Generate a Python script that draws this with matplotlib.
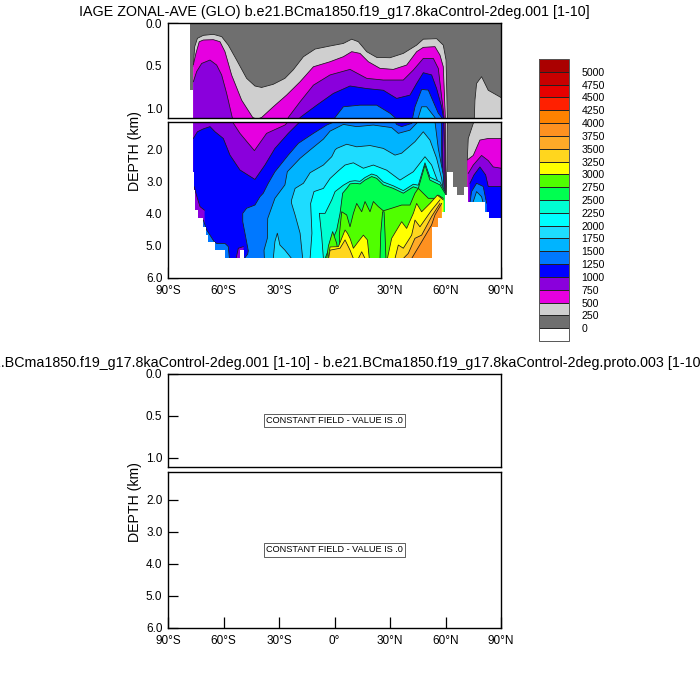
import matplotlib
matplotlib.use("Agg")
import matplotlib.pyplot as plt
from matplotlib.colors import ListedColormap, BoundaryNorm
from matplotlib.colorbar import ColorbarBase

plt.rcParams['font.family'] = ['Liberation Sans', 'DejaVu Sans']

title_top = "IAGE ZONAL-AVE (GLO) b.e21.BCma1850.f19_g17.8kaControl-2deg.001 [1-10]"
title_bottom = ("b.e21.BCma1850.f19_g17.8kaControl-2deg.001 [1-10] - "
                "b.e21.BCma1850.f19_g17.8kaControl-2deg.proto.003 [1-10]")
constant_text = "CONSTANT FIELD - VALUE IS .0"

levels = list(range(0, 5001, 250))
colors = ['#6f6f6f', '#cfcfcf', '#e600e0', '#8a00dc', '#0000ff', '#0078ff', '#00b4ff',
          '#1edcff', '#00ffff', '#00ffd2', '#00ff50', '#50ff00', '#ffff00', '#ffd61e',
          '#ffaa28', '#ff9120', '#ff8200', '#ff2000', '#e60000', '#c80000']
color_under = '#ffffff'
color_over = '#aa0000'

xticks = [-90, -60, -30, 0, 30, 60, 90]
xlabels = ['90°S', '60°S', '30°S', '0°', '30°N', '60°N', '90°N']

# sea floor
floor_lat = [-90, -78, -76.3, -75.8, -75.4, -73.6, -70.9, -69.6, -68.2, -64.6, -59.2, -51.1, -48.7,
             52.9, 56.1, 57.9, 59.7, 60.6, 64.2, 66, 70, 72.3, 81.5, 83.7, 90]
floor_dep = [0, 0.79, 2.68, 3.25, 3.88, 4.14, 4.4, 4.66, 4.86, 5.13, 5.39, 5.13, 5.39,
             4.4, 4.14, 3.93, 3.4, 2.68, 3.15, 3.4, 3.15, 3.64, 3.93, 4.14, 4.14]

# isolines: top edge of the area above each level
lat_250 = [-76.3, -75.6, -74.1, -70.9, -65.5, -61, -57.4, -52.9, -47.5, -43, -39.4, -33.1, -26.8,
           -22.3, -16.8, -10.5, -2.4, 4.8, 9.3, 12.9, 17.4, 22.8, 30, 37.2, 44.4, 48, 55.2, 58.8,
           60.3, 61, 60.8, 60.3]
dep_250 = [.51, .28, .18, .145, .133, .16, .26, .435, .65, .74, .757, .72, .65,
           .55, .396, .306, .27, .24, .19, .22, .337, .404, .408, .357, .26, .19, .184, .26,
           .435, 1.1, 2.5, 3.5]
lat_250n = [72.3, 71.8, 72.3, 75, 75.6, 75.9, 76.8, 79.5, 81.3, 83.1, 90]
dep_250n = [3.15, 2.26, 1.64, 1.17, 1.11, .91, .71, .63, .71, .79, .875]

lat_500 = [-76.3, -74.9, -73.1, -70.9, -65.5, -61.9, -59.2, -55.6, -50.2, -44.2, -41.9, -39.4, -33.1,
           -25.9, -18.6, -11.4, -2.4, 4.8, 9.3, 13.8, 18.3, 24.6, 31.8, 39, 44.4, 48, 54.3, 57,
           58.8, 59.9, 60, 60]
dep_500 = [.49, .357, .22, .20, .196, .22, .337, .612, .906, 1.11, 1.13, 1.11, .984,
           .847, .69, .514, .455, .396, .337, .357, .455, .533, .545, .494, .337, .286, .278, .376,
           .514, 1.10, 2, 3.5]
lat_500n = [71.8, 75, 78.6, 83.1, 90]
dep_500n = [2.31, 2.17, 1.69, 1.64, 1.64]

lat_750 = [-76.3, -74.5, -71.8, -67.3, -63.7, -61, -58.3, -55, -51.1, -43.3, -36.7, -26.8, -25,
           -18.6, -11.4, -2.4, 8.4, 17.4, 26.4, 37.2, 42.6, 48, 53.4, 56.1, 57.9, 59.2, 59.6, 59.6]
dep_750 = [.69, .57, .475, .435, .494, .61, .827, 1.135, 1.48, 2.02, 1.48, 1.22, 1.11,
           .925, .73, .61, .545, .65, .67, .67, .553, .416, .416, .533, .867, 1.10, 2, 3.5]
lat_750n = [72.3, 75, 79.5, 83.1, 85.8, 90]
dep_750n = [2.73, 2.47, 2.17, 2.33, 2.53, 2.57]

lat_1000 = [-76.3, -74.1, -70.9, -67.3, -64.6, -60.1, -56.5, -51.1, -43, -37.6, -32.2, -25, -18.6,
            -9.6, -.6, 8.4, 17.4, 26.4, 33.6, 40.8, 44.4, 48, 52.5, 55.2, 57.9, 58.8, 58.5, 58.8]
dep_1000 = [1.64, 1.43, 1.34, 1.27, 1.43, 1.64, 2.16, 2.625, 2.92, 2.47, 1.95, 1.48, 1.11,
            .965, .827, .74, .77, .79, .886, .847, .71, .584, .61, .77, .984, 1.10, 2, 3.3]
lat_1000n = [73.2, 75.4, 78.6, 81.7, 83.1, 90]
dep_1000n = [3.04, 2.78, 2.53, 2.78, 3.14, 3.14]

# older water along the southern edge and floor
lat_750s = [-75.8, -75.4, -74.1, -72.7, -70.3]
dep_750s = [3.15, 3.25, 3.51, 3.77, 3.88]
lat_750f = [-53.2, -52, -49.3]
dep_750f = [5.39, 5.07, 5.02]

lat_1250 = [-48.7, -46.9, -46.6, -48.4, -49.6, -49.6, -47.5, -43, -40.3, -38.5, -35.8, -32.2, -25, -19.5,
            -11.4, -4.2, 0.3, 4.8, 13.8, 22.8, 30, 32.7, 33.5, 36.3, 41.7, 43.5, 47.1, 50.7, 53.4, 56.1,
            57.9, 57.9, 58.3]
dep_1250 = [5.39, 5.25, 5.15, 4.6, 4.24, 3.98, 3.82, 3.72, 3.46, 3.35, 3.04, 2.68, 2.16, 1.79,
            1.48, 1.22, 1.11, .984, .965, .965, 1.06, 1.11, 1.2, 1.27, 1.17, .984, .78, .788, .925, 1.06,
            1.11, 1.95, 3.3]
lat_1250n = [73.2, 74.1, 76.8, 80.4, 82.2]
dep_1250n = [3.66, 3.3, 3.04, 3.14, 3.66]
lat_1250f = [-70.9, -69.1, -67.3, -65.1, -63.7, -59.2, -57.4, -56.8]
dep_1250f = [4.19, 4.5, 4.66, 4.86, 4.92, 4.92, 5.02, 5.39]

lat_1500 = [-37.9, -38.1, -36.3, -36.1, -32.2, -26.8, -25.5, -18.6, -13.2, -6, -2.4, 4.8, 12, 21,
            30.9, 34.5, 40.8, 45.3, 47.1, 49.8, 52.5, 54.3, 56.1, 58.8, 59.4]
dep_1500 = [5.39, 5.13, 4.76, 4.14, 3.51, 3.09, 2.68, 2.26, 2, 1.66, 1.41, 1.2, 1.27, 1.22,
            1.3, 1.48, 1.38, 1.11, .984, .984, 1.06, 1.11, 1.95, 2.78, 3.41]
lat_1500n = [75, 76.8, 79.5, 80.4]
dep_1500n = [3.61, 3.3, 3.46, 3.66]

lat_1750 = [-17.2, -18.6, -21.3, -23.2, -23.2, -21.3, -16.8, -13.2, -6, -1.5, .3, 1.2, 6.6, 12, 19.2,
            26.4, 32.7, 36.3, 43.5, 48, 51.6, 55.2, 57.9, 59.2]
dep_1750 = [5.39, 4.6, 4.03, 3.67, 3.56, 3.2, 3.04, 2.71, 2.47, 2.21, 2.0, 1.95, 1.82, 1.9, 1.86,
            1.95, 2.16, 2.1, 1.74, 1.43, 1.69, 2.26, 2.89, 3.41]
lat_1750b = [-33.1, -32.2, -30.9, -29.5, -26.8, -23.2]
dep_1750b = [5.39, 4.86, 4.6, 4.97, 5.13, 5.39]

lat_2000 = [-13.2, -12.2, -12.9, -11.1, -6, -2.4, 2.1, 5.7, 10.2, 15.6, 21, 28.2, 35.4, 42.6,
            48.9, 52.5, 55.2, 58.8]
dep_2000 = [5.39, 4.6, 3.67, 3.3, 3.2, 2.89, 2.65, 2.47, 2.4, 2.57, 2.47, 2.63, 2.94, 2.68,
            2.21, 2.47, 2.89, 3.41]

lat_2250 = [-6, -6.9, -8.2, -5.1, -1.5, .3, 4.8, 8.4, 11.1, 13.8, 16.5, 20.1, 22.8, 26.4, 31.8,
            37.2, 42.6, 45.3, 48.9, 51.6, 57, 59.7]
dep_2250 = [5.39, 4.7, 3.98, 3.98, 3.56, 3.3, 3.1, 2.98, 2.96, 2.98, 2.86, 2.75, 2.8, 3.0, 3.12,
            3.27, 3.07, 3.1, 2.4, 2.85, 3.0, 3.3]

lat_2500 = [-5.1, -1.5, 1.2, 3, 4.4, 6.6, 8.4, 11.1, 13.8, 16.5, 20.1, 22.8, 26.4, 31.8, 37.2, 42.6,
            45.3, 48.9, 51.6, 57, 59.7]
dep_2500 = [5.39, 4.86, 4.5, 3.98, 3.35, 3.2, 3.06, 3.04, 3.06, 2.94, 2.83, 2.885, 3.09, 3.2, 3.35, 3.15,
            3.2, 2.47, 2.94, 3.09, 3.35]
# narrow tongue rising from the floor through the green area
lat_2500c = [24.6, 25, 26, 26.8, 27.3, 27.8]
dep_2500c = [5.39, 4.6, 3.93, 3.93, 4.6, 5.39]

lat_2750 = [3, 2.6, 3.9, 6.6, 8.4, 10.2, 12, 14.7, 16.5, 19.2, 21, 23.7, 26.4, 30.9, 36.3, 40.8,
            43.5, 45.3, 50.7, 54.3, 56.1, 58.8]
dep_2750 = [5.39, 4.66, 3.93, 4.03, 4.4, 3.98, 3.67, 3.93, 3.61, 3.93, 3.61, 3.77, 3.9, 3.82, 3.72, 3.72,
            3.35, 3.2, 3.51, 3.51, 3.41, 3.51]
lat_2750b = [-4.2, -3.3, -1, 1.2, 2.2]
dep_2750b = [5.39, 5.0, 4.55, 4.92, 5.39]

lat_3000 = [-3.4, -2.4, 2.1, 5.7, 7, 8.4, 10.2, 12.9, 15.6, 17.8, 18.8]
dep_3000 = [5.39, 5.03, 5.02, 4.5, 4.6, 4.76, 5.07, 4.86, 4.66, 4.81, 5.39]
lat_3000r = [28.6, 30.9, 33.6, 36.3, 39, 42.6, 44.4, 47.1, 51.6, 55.6, 58.8]
dep_3000r = [5.39, 4.76, 4.5, 4.24, 4.45, 3.98, 3.67, 3.93, 3.67, 3.41, 3.56]

lat_3250 = [-3.2, -2.4, 3, 5.7, 8.4, 10.2]
dep_3250 = [5.39, 5.13, 5.07, 4.81, 5.13, 5.39]
lat_3250b = [12.9, 14.7, 16.5]
dep_3250b = [5.39, 5.18, 5.39]
lat_3250r = [32.7, 34.5, 37.2, 41.7, 43.5, 46.2, 52.5, 57]
dep_3250r = [5.39, 4.97, 5.07, 4.66, 4.19, 4.4, 3.88, 3.56]

lat_3500 = [37.2, 39.9, 43.5, 47.1, 52.5, 57]
dep_3500 = [5.39, 5.23, 4.76, 4.66, 4.08, 3.67]

lat_3750 = [41.7, 47.1, 52.5, 54.3, 57.9]
dep_3750 = [5.39, 4.87, 4.34, 4.03, 3.67]

isolines = [
    (250, lat_250, dep_250), (250, lat_250n, dep_250n),
    (500, lat_500, dep_500), (500, lat_500n, dep_500n),
    (750, lat_750, dep_750), (750, lat_750n, dep_750n),
    (1000, lat_1000, dep_1000), (1000, lat_1000n, dep_1000n),
    (750, lat_750s, dep_750s), (750, lat_750f, dep_750f),
    (1250, lat_1250, dep_1250), (1250, lat_1250n, dep_1250n), (1250, lat_1250f, dep_1250f),
    (1500, lat_1500, dep_1500), (1500, lat_1500n, dep_1500n),
    (1750, lat_1750, dep_1750), (1750, lat_1750b, dep_1750b),
    (2000, lat_2000, dep_2000),
    (2250, lat_2250, dep_2250),
    (2500, lat_2500, dep_2500),
    (2750, lat_2750, dep_2750), (2750, lat_2750b, dep_2750b),
    (2500, lat_2500c, dep_2500c),
    (3000, lat_3000, dep_3000), (3000, lat_3000r, dep_3000r),
    (3250, lat_3250, dep_3250), (3250, lat_3250b, dep_3250b), (3250, lat_3250r, dep_3250r),
    (3500, lat_3500, dep_3500),
    (3750, lat_3750, dep_3750),
]

W, H = 700.0, 700.0


def make_axes(fig, top, bottom):
    return fig.add_axes([168 / W, 1 - bottom / H, 333 / W, (bottom - top) / H])


def style(ax, ylim, yticks, show_x):
    ax.set_xlim(-90, 90)
    ax.set_ylim(ylim)
    ax.set_yticks(yticks)
    ax.set_yticklabels(['%.1f' % t for t in yticks], fontsize=8.5)
    ax.tick_params(axis='y', direction='in', length=7, width=0.9, pad=4, left=True, right=False)
    ax.set_xticks(xticks)
    if show_x:
        ax.set_xticklabels(xlabels, fontsize=8.5)
        ax.tick_params(axis='x', direction='in', length=8, width=0.9, pad=5, top=False)
    else:
        ax.set_xticks([])
    for s in ax.spines.values():
        s.set_linewidth(1.0)
        s.set_zorder(10)


def draw_field(ax):
    # whole ocean is the lowest class, then paint each level over it
    ax.axhspan(-1, 7, color=colors[0], lw=0)
    for level, lat, dep in isolines:
        c = colors[levels.index(level)]
        ax.fill(lat + [lat[-1], lat[0]], dep + [6.3, 6.3], facecolor=c, edgecolor=c, lw=0.2, zorder=2)
        ax.plot(lat, dep, color='#1a1a1a', lw=0.55, zorder=2, solid_joinstyle='round')
    ax.fill_between(floor_lat, floor_dep, 6.3, step='post', color='white', lw=0, zorder=3)


fig = plt.figure(figsize=(7, 7), dpi=100)

ax1 = make_axes(fig, 23, 117.5)
draw_field(ax1)
style(ax1, (1.11, 0), [0, 0.5, 1.0], False)

ax2 = make_axes(fig, 122, 278)
draw_field(ax2)
style(ax2, (6, 1.125), [2, 3, 4, 5, 6], True)

ax3 = make_axes(fig, 374, 467)
style(ax3, (1.11, 0), [0, 0.5, 1.0], False)

ax4 = make_axes(fig, 472, 628)
style(ax4, (6, 1.125), [2, 3, 4, 5, 6], True)

for ax in (ax3, ax4):
    ax.text(0.5, 0.5, constant_text, transform=ax.transAxes, ha='center', va='center', fontsize=6.6,
            bbox=dict(boxstyle='square,pad=0.25', fc='white', ec='#444444', lw=0.6))

fig.text(334.5 / W, 1 - 12 / H, title_top, ha='center', va='center', fontsize=10.25)
fig.text(335 / W, 1 - 363 / H, title_bottom, ha='center', va='center', fontsize=10.25)
fig.text(135 / W, 1 - 151 / H, 'DEPTH (km)', rotation=90, ha='center', va='center', fontsize=10.2)
fig.text(135 / W, 1 - 502 / H, 'DEPTH (km)', rotation=90, ha='center', va='center', fontsize=10.2)

# label bar
cax = fig.add_axes([539 / W, 1 - 341 / H, 30 / W, 282 / H])
cmap = ListedColormap(colors)
cmap.set_under(color_under)
cmap.set_over(color_over)
norm = BoundaryNorm(levels, len(colors))
cb = ColorbarBase(cax, cmap=cmap, norm=norm, boundaries=[-250] + levels + [5250], extend='both',
                  extendrect=True, extendfrac=0.05, ticks=levels, spacing='uniform',
                  drawedges=True, orientation='vertical')
cb.ax.tick_params(length=0, labelsize=7.6, pad=9)
cb.set_ticklabels([str(v) for v in levels])
cb.outline.set_linewidth(0.7)
cb.outline.set_edgecolor('#555555')
cb.dividers.set_linewidth(0.7)
cb.dividers.set_color('#222222')

fig.savefig('out.png', dpi=100)
